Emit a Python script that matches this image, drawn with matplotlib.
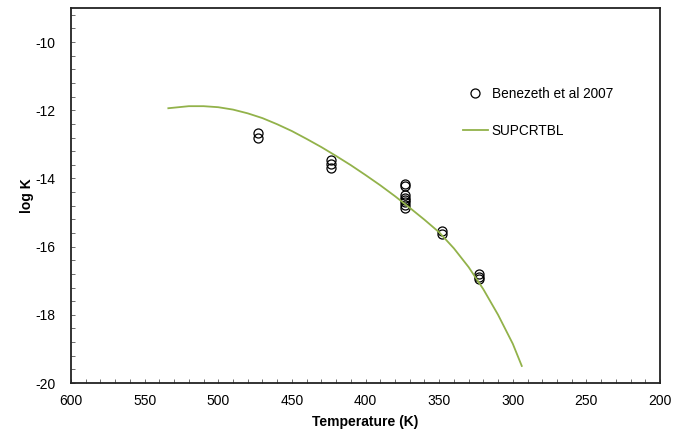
import matplotlib
matplotlib.use("Agg")
import matplotlib.pyplot as plt
from matplotlib.ticker import MultipleLocator

plt.rcParams['font.family'] = ['Liberation Sans', 'DejaVu Sans']
plt.rcParams['axes.unicode_minus'] = False

# Benezeth et al 2007 measurements (T in K, log K)
exp_T = [473.15, 473.15,
         423.15, 423.15, 423.15,
         373.15, 373.15, 373.15, 373.15, 373.15, 373.15, 373.15, 373.15,
         348.15, 348.15,
         323.15, 323.15, 323.15]
exp_logK = [-12.68, -12.80,
            -13.45, -13.58, -13.70,
            -14.15, -14.22, -14.50, -14.57, -14.62, -14.70, -14.78, -14.88,
            -15.55, -15.62,
            -16.80, -16.88, -16.95]

# SUPCRTBL curve
calc_T = [533.9, 520, 510, 500, 490, 480, 470, 460, 450, 440, 430, 420, 410,
          400, 390, 380, 370, 360, 350, 340, 330, 320, 310, 300, 293.9]
calc_logK = [-11.94, -11.88, -11.88, -11.91, -11.98, -12.09, -12.23, -12.41,
             -12.61, -12.84, -13.08, -13.34, -13.61, -13.90, -14.20, -14.52,
             -14.86, -15.21, -15.58, -16.05, -16.60, -17.25, -18.00, -18.85,
             -19.50]

fig = plt.figure(figsize=(6.84, 4.30), dpi=100)
ax = fig.add_axes([0.1038, 0.1093, 0.8612, 0.8721])

ax.plot(exp_T, exp_logK, linestyle='none', marker='o', markersize=6.5,
        markerfacecolor='none', markeredgecolor='black', markeredgewidth=0.9,
        label='Benezeth et al 2007')
ax.plot(calc_T, calc_logK, color='#92B24A', linewidth=1.3, label='SUPCRTBL')

ax.set_xlim(600, 200)
ax.set_ylim(-20, -9)
ax.set_xticks(range(600, 199, -50))
ax.set_yticks(range(-20, -9, 2))
ax.xaxis.set_minor_locator(MultipleLocator(10))
ax.yaxis.set_minor_locator(MultipleLocator(0.4))
ax.tick_params(which='both', direction='in', length=3, width=0.6,
               labelsize=10, color='#555555')
ax.tick_params(axis='x', which='major', pad=8)
ax.tick_params(axis='y', which='major', pad=11)

for s in ax.spines.values():
    s.set_linewidth(1.3)
    s.set_color('#222222')

label_font = dict(fontsize=10, fontweight='bold')
ax.set_xlabel('Temperature (K)', labelpad=5, **label_font)
ax.set_ylabel('log K', labelpad=1, **label_font)

ax.legend(loc='upper left', bbox_to_anchor=(0.6655, 0.79), frameon=False,
          fontsize=9.8, handlelength=1.8, handletextpad=0.3,
          labelspacing=1.7, borderpad=0, borderaxespad=0)

fig.savefig('out.png', dpi=100)
